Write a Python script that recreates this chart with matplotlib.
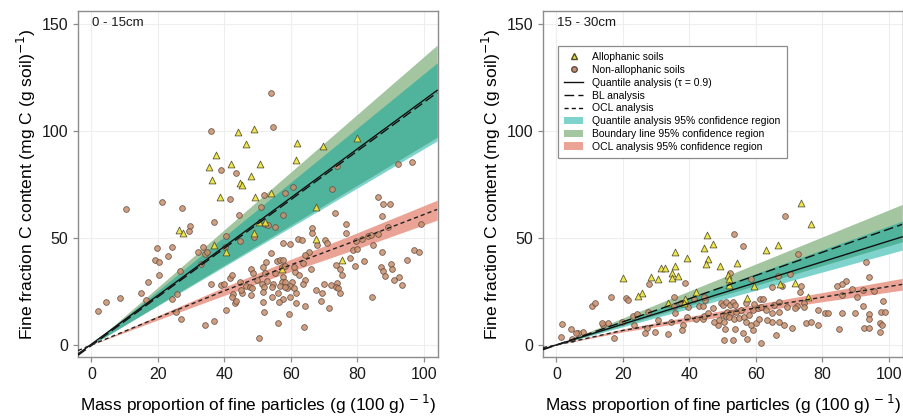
import numpy as np
import matplotlib.pyplot as plt
from matplotlib.lines import Line2D
from matplotlib.patches import Patch

plt.rcParams['font.family'] = ['Liberation Sans', 'DejaVu Sans']

# ---------------- 0 - 15cm ----------------
allo1_x = [44.2, 49.0, 62.0, 79.9, 69.7, 46.4, 37.6, 35.5, 36.3, 41.9, 50.8, 61.7, 48.1, 44.7, 45.4,
           38.7, 49.3, 54.1, 67.5, 26.4, 27.7, 36.8, 48.9, 50.4, 52.3, 67.7, 40.6, 75.4, 57.2]
allo1_y = [99.5, 101, 94.5, 96.7, 93, 93.7, 88.6, 83.2, 77, 84.4, 84.3, 86.6, 79, 75.7, 74.9,
           69.2, 68.9, 71, 64.2, 53.9, 52.5, 46.9, 52.2, 57.4, 57.5, 49.3, 43.2, 39.6, 35.7]

non1_x = [36.0, 39.1, 43.5, 41.7, 21.4, 54.0, 54.7, 92.2, 96.3, 73.9, 51.9, 58.2, 60.7, 72.3, 86.2, 87.7, 89.9,
          10.4, 27.2, 29.6, 29.3, 37.0, 44.5, 40.4, 44.8, 49.0, 19.9, 24.2, 23.0, 32.2, 33.7, 34.2, 34.7, 40.1,
          19.1, 20.3, 33.0, 26.6, 20.5, 17.0, 15.0, 16.4, 24.2, 25.7, 8.7, 4.5, 1.9, 36.0, 39.0, 40.0, 41.6,
          42.4, 44.7, 48.0, 48.7, 49.9, 25.5, 27.1, 34.3, 36.8, 40.6, 42.6, 42.4, 45.2, 44.9, 46.6, 47.7, 48.4,
          43.2, 43.6, 48.0, 50.4,
          51.0, 57.5, 52.2, 55.2, 53.2, 73.4, 87.3, 76.5, 76.7, 66.4, 66.5, 89.3, 99.2, 86.2, 81.4, 83.2, 84.0,
          79.7, 70.4, 71.0, 67.9, 62.2, 63.3, 57.5, 59.7, 84.6, 78.7, 80.0, 65.5, 64.4, 53.9, 87.3, 97.0, 98.4,
          77.7, 82.0, 79.3, 94.9, 63.7, 66.2, 73.5, 74.8, 75.3, 87.1, 87.8, 88.4, 90.0, 90.5, 91.1, 92.4, 93.4,
          52.5, 55.7, 56.7, 57.7, 51.5, 57.2, 58.2, 61.2, 60.9, 62.5, 64.2, 63.7, 52.1, 55.2, 57.5, 57.3, 58.2,
          52.7, 54.7, 51.2, 51.9, 60.4, 59.9, 58.9, 61.0, 61.7, 56.7, 58.3, 56.1, 57.7, 56.5, 54.2, 54.2, 51.7,
          51.7, 51.9, 59.7, 61.7, 64.3, 67.5, 69.4, 69.1, 70.0, 72.2, 74.0, 73.7, 74.2, 74.7, 71.4, 84.3, 59.3,
          56.0, 64.0]
non1_y = [99.9, 81.5, 80.2, 68.4, 66.8, 117.5, 101.8, 84.7, 85.3, 83.5, 70.0, 71.0, 73.8, 73.0, 69.2, 65.6, 65.8,
          63.7, 64.0, 55.5, 53.3, 57.2, 60.9, 51.0, 48.6, 50.5, 45.4, 45.8, 41.6, 43.5, 45.8, 42.7, 43.2, 45.8,
          39.6, 38.7, 38.0, 34.5, 32.5, 29.2, 24.4, 21.1, 21.3, 23.8, 21.9, 19.9, 15.7, 28.4, 28.1, 28.6, 31.5,
          32.6, 29.3, 35.4, 33.7, 30.3, 15.5, 12.1, 9.5, 11.3, 16.3, 23.6, 22.5, 24.1, 25.6, 27.5, 27.2, 26.4,
          19.4, 20.7, 23.3, 3.1,
          64.5, 60.6, 56.7, 55.2, 56.0, 61.4, 60.1, 56.7, 52.1, 54.4, 52.1, 55.2, 56.7, 51.6, 49.7, 51.1, 51.3,
          48.5, 48.9, 47.7, 46.6, 49.7, 48.9, 47.7, 47.1, 46.6, 44.3, 44.6, 43.5, 42.0, 43.0, 43.5, 44.3, 43.4,
          40.4, 39.2, 36.7, 39.9, 38.5, 35.4, 37.3, 35.3, 32.6, 36.5, 34.6, 32.2, 37.6, 35.4, 30.3, 31.8, 28.0,
          38.8, 39.2, 39.6, 39.6, 36.5, 36.5, 36.8, 34.2, 36.5, 32.6, 30.3, 28.7, 33.4, 33.4, 31.9, 29.5, 29.5,
          30.0, 28.7, 28.7, 26.9, 29.5, 27.5, 26.4, 26.4, 24.1, 27.5, 26.9, 24.1, 21.7, 20.2, 27.2, 22.5, 24.9,
          20.2, 15.5, 22.2, 19.4, 18.2, 25.9, 24.1, 20.5, 28.7, 27.9, 29.0, 27.2, 26.4, 24.1, 17.1, 22.5, 14.3,
          10.1, 8.2]

# fitted lines / confidence regions, 0 - 15cm
line_x = [-4, 104]
q1_line = [-4.2, 118.9]
bl1_line = [-4.8, 117.8]
band_x = [0, 104]
q1_lo, q1_hi = [0, 95.3], [0, 131.7]
bl1_lo, bl1_hi = [0, 97.0], [0, 140.0]
ocl_x = [-4, 0, 20, 40, 60, 80, 104]
ocl1_line = [-2.6, 0, 12.8, 25.3, 37.4, 49.0, 63.3]
oclb_x = [0, 20, 40, 60, 80, 104]
ocl1_lo = [0, 11.7, 23.2, 34.3, 45.0, 58.3]
ocl1_hi = [0, 13.7, 27.0, 40.0, 52.4, 67.6]

# ---------------- 15 - 30cm ----------------
allo2_x = [73.5, 76.5, 45.3, 47.0, 35.8, 44.5, 39.3, 45.5, 35.8, 45.0, 49.1, 54.2, 31.6, 32.8, 34.7, 34.7,
           36.7, 28.5, 30.5, 20.0, 63.1, 66.7, 51.6, 51.8, 51.8, 59.5, 67.2, 71.8, 42.1, 25.9, 24.5, 33.5,
           38.6, 38.3, 57.3, 75.8]
allo2_y = [66.5, 56.4, 51.3, 47.1, 43.2, 45.1, 40.7, 40.0, 37.0, 37.6, 37.0, 38.1, 36.1, 36.1, 33.4, 31.4,
           32.2, 31.9, 30.8, 31.1, 44.3, 46.6, 32.5, 30.6, 28.0, 27.7, 28.4, 29.1, 24.6, 24.1, 23.0, 19.4,
           21.3, 19.7, 21.8, 22.5]

non2_x = [68.8, 53.5, 56.1, 72.8, 93.2, 94.0, 38.8, 27.9, 52.2, 58.5, 70.3, 66.6, 73.6, 73.2, 65.0, 67.8,
          87.0, 86.0, 84.3, 89.0, 92.3, 95.5, 85.8, 90.5, 92.2, 98.2, 97.5, 98.8, 94.0, 94.0, 97.3, 98.0,
          92.5, 94.0, 97.3, 89.7, 85.8, 80.8, 81.8, 78.7, 74.5, 74.5, 72.5, 71.8, 75.0, 76.5, 78.7, 85.0,
          71.0, 68.5, 67.0, 65.0, 66.0, 61.5, 57.2, 53.2, 50.3, 56.0, 59.0, 53.8, 50.8, 48.5, 47.5, 44.0,
          44.3, 42.0, 39.3, 38.0, 37.8, 34.5, 33.5, 30.7, 29.7, 27.2, 26.8, 23.5, 23.0, 24.2, 19.7, 17.3,
          14.0, 13.7, 15.5, 16.5, 10.8, 11.5, 8.0, 6.5, 6.0, 4.5, 4.7, 1.8, 1.3, 21.0, 21.7, 27.7, 35.8,
          35.5, 35.3, 37.5, 39.5, 43.0, 44.0, 44.7, 44.5, 41.5, 45.5, 47.0, 49.5, 50.0, 51.0, 52.2, 53.0,
          53.8, 51.3, 52.5, 54.0, 55.5, 50.0, 51.0, 52.0, 53.5, 49.0, 50.5, 55.0, 56.5, 58.0, 57.0, 58.5,
          60.0, 61.0, 59.0, 60.5, 61.5, 63.0, 57.0, 59.5, 61.3, 62.2, 63.5, 65.0, 67.0, 69.5, 67.0, 65.5]
non2_y = [60.3, 51.6, 46.2, 42.4, 38.9, 31.6, 28.8, 28.4, 33.4, 30.6, 33.1, 32.2, 27.5, 24.9, 27.2, 27.5,
          30.0, 28.3, 27.5, 26.1, 25.6, 25.2, 23.3, 22.2, 18.2, 20.7, 15.5, 15.5, 14.5, 12.0, 10.1, 9.3,
          7.8, 7.8, 5.9, 15.1, 15.1, 14.8, 14.8, 16.3, 19.4, 17.9, 18.2, 17.4, 10.4, 10.9, 9.3, 7.3,
          8.1, 9.3, 10.9, 10.6, 4.7, 0.8, 2.8, 2.3, 2.3, 5.4, 7.0, 7.3, 7.3, 9.3, 10.9, 12.0,
          13.5, 12.0, 13.2, 9.3, 7.0, 10.9, 5.0, 11.7, 6.2, 8.1, 5.8, 9.3, 13.5, 14.3, 10.9, 3.4,
          9.3, 10.1, 10.1, 22.5, 18.2, 19.4, 6.2, 5.8, 5.8, 7.3, 2.6, 9.8, 3.9, 22.1, 21.0, 15.5, 15.1,
          18.2, 22.5, 19.7, 17.9, 18.2, 18.2, 21.0, 22.5, 21.5, 14.8, 17.1, 19.4, 18.7, 20.2, 18.7, 20.2,
          18.7, 15.5, 14.8, 15.5, 16.3, 14.0, 13.5, 12.9, 12.0, 11.7, 10.9, 12.4, 13.2, 14.0, 10.9, 9.3,
          10.4, 12.0, 16.3, 17.1, 17.9, 16.3, 19.7, 19.1, 21.3, 21.3, 11.7, 14.8, 15.5, 17.9, 20.2, 18.7]

q2_line = [-1.9, 50.5]
bl2_line = [-2.2, 56.3]
q2_lo, q2_hi = [0, 44.3], [0, 57.8]
bl2_lo, bl2_hi = [0, 48.2], [0, 65.6]
ocl2_line = [-1.2, 0, 6.8, 12.1, 17.3, 22.3, 28.3]
ocl2_lo = [0, 6.1, 10.9, 15.6, 20.2, 25.6]
ocl2_hi = [0, 7.5, 13.3, 19.0, 24.5, 31.1]

c_cyan = '#7fd3cd'
c_green = '#a3c5a0'
c_teal = '#50b49d'
c_red = '#eba395'
c_circle = '#c98f6c'
c_circle_edge = '#5e4a3e'
c_tri = '#efe53c'
c_tri_edge = '#4f4a26'
dash_bl = (0, (7, 3))
dash_ocl = (0, (3, 2.2))

fig = plt.figure(figsize=(9.04, 4.17), dpi=100)
ax1 = fig.add_axes([0.0863, 0.1439, 0.398, 0.830])
ax2 = fig.add_axes([0.6007, 0.1439, 0.398, 0.830])

panels = [
    (ax1, '0 - 15cm', allo1_x, allo1_y, non1_x, non1_y, q1_line, bl1_line, q1_lo, q1_hi,
     bl1_lo, bl1_hi, ocl1_line, ocl1_lo, ocl1_hi),
    (ax2, '15 - 30cm', allo2_x, allo2_y, non2_x, non2_y, q2_line, bl2_line, q2_lo, q2_hi,
     bl2_lo, bl2_hi, ocl2_line, ocl2_lo, ocl2_hi),
]

for (ax, title, ax_, ay_, nx_, ny_, ql, bll, qlo, qhi, blo, bhi, ol, olo, ohi) in panels:
    # confidence regions: cyan, green, then their overlap in teal
    ax.fill_between(band_x, qlo, qhi, color=c_cyan, lw=0, zorder=1)
    ax.fill_between(band_x, blo, bhi, color=c_green, lw=0, zorder=1.1)
    ax.fill_between(band_x, np.maximum(qlo, blo), np.minimum(qhi, bhi), color=c_teal, lw=0, zorder=1.2)
    ax.fill_between(oclb_x, olo, ohi, color=c_red, lw=0, zorder=1)

    ax.scatter(nx_, ny_, s=17, marker='o', facecolor=c_circle, edgecolor=c_circle_edge,
               linewidth=0.6, alpha=0.85, zorder=3)
    ax.scatter(ax_, ay_, s=24, marker='^', facecolor=c_tri, edgecolor=c_tri_edge,
               linewidth=0.6, alpha=0.9, zorder=3)

    ax.plot(line_x, ql, color='#111111', lw=1.0, zorder=4)
    ax.plot(line_x, bll, color='#111111', lw=1.0, linestyle=dash_bl, zorder=4)
    ax.plot(ocl_x, ol, color='#222222', lw=1.0, linestyle=dash_ocl, zorder=4)

    ax.set_xlim(-4, 104.2)
    ax.set_ylim(-5.6, 156)
    ax.set_xticks([0, 20, 40, 60, 80, 100])
    ax.set_yticks([0, 50, 100, 150])
    ax.grid(True, color='#eeeeee', lw=0.8, zorder=0)
    ax.set_axisbelow(True)
    for sp in ax.spines.values():
        sp.set_color('#8c8c8c')
        sp.set_linewidth(1.0)
    ax.tick_params(axis='both', colors='#8c8c8c', labelcolor='#1a1a1a', labelsize=11.5,
                   length=3.5, width=0.9)
    ax.set_xlabel('Mass proportion of fine particles (g (100 g)$^{\\,-1}$)', fontsize=12.4, labelpad=8)
    ax.set_ylabel('Fine fraction C content (mg C (g soil)$^{-1}$)', fontsize=12.6, labelpad=3)
    ax.text(0.038, 0.965, title, transform=ax.transAxes, fontsize=9.5, va='center', ha='left',
            color='#1a1a1a')

handles = [
    Line2D([], [], marker='^', linestyle='none', markerfacecolor=c_tri, markeredgecolor=c_tri_edge,
           markersize=5),
    Line2D([], [], marker='o', linestyle='none', markerfacecolor=c_circle, markeredgecolor=c_circle_edge,
           markersize=4),
    Line2D([], [], color='#111111', lw=1.0),
    Line2D([], [], color='#111111', lw=1.0, linestyle=dash_bl),
    Line2D([], [], color='#111111', lw=1.0, linestyle=dash_ocl),
    Patch(facecolor=c_cyan, edgecolor='none'),
    Patch(facecolor=c_green, edgecolor='none'),
    Patch(facecolor=c_red, edgecolor='none'),
]
labels = ['Allophanic soils', 'Non-allophanic soils', 'Quantile analysis (\u03c4 = 0.9)', 'BL analysis',
          'OCL analysis', 'Quantile analysis 95% confidence region', 'Boundary line 95% confidence region',
          'OCL analysis 95% confidence region']
leg = ax2.legend(handles, labels, loc='upper left', bbox_to_anchor=(0.036, 0.905), fontsize=7.5,
                 frameon=True, fancybox=False, edgecolor='#8c8c8c', framealpha=1,
                 labelspacing=0.27, handlelength=1.8, handletextpad=0.9, borderpad=0.6,
                 borderaxespad=0.2)
leg.get_frame().set_linewidth(0.9)
leg.set_zorder(5)

fig.savefig('out.png', dpi=100)
